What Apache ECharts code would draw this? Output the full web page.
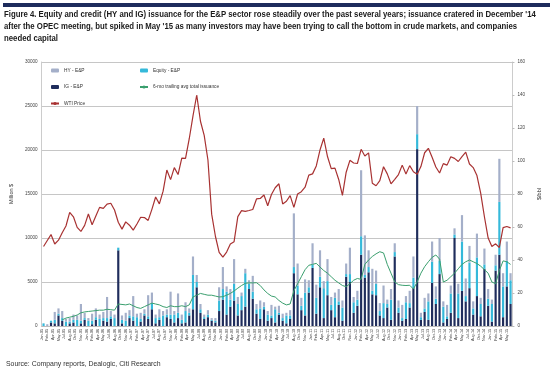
<!DOCTYPE html>
<html><head><meta charset="utf-8">
<script src="https://cdn.jsdelivr.net/npm/echarts@6/dist/echarts.min.js"></script>
<style>html,body{margin:0;padding:0;background:#fff}#c{width:550px;height:372px}</style>
</head><body><div id="c"></div>
<script>
// ---- Data (monthly Jan-05 .. Jun-15) ----
var MONTH_NAMES = ['Jan','Feb','Mar','Apr','May','Jun','Jul','Aug','Sep','Oct','Nov','Dec'];
var YEARS = ['05','06','07','08','09','10','11','12','13','14','15'];
var LAST_MONTH_2015 = 6;
var categories = [];
YEARS.forEach(function(y){
  var n = (y === '15') ? LAST_MONTH_2015 : 12;
  for (var m = 0; m < n; m++) categories.push(MONTH_NAMES[m] + '-' + y);
});

var hyIssuance = [
  0,200,0,900,600,800,300,400,600,500,1900,600,
  300,800,1000,500,700,2400,600,400,0,500,900,600,
  2300,400,700,500,2400,1200,400,900,500,600,2600,400,
  2200,600,1000,500,2100,800,600,300,500,200,300,1500,
  2500,600,1200,2800,800,400,500,400,1800,600,900,500,
  400,1200,300,800,500,300,600,6100,2500,900,1500,800,
  2400,1500,3000,800,2500,900,600,1400,800,1200,3000,600,
  1000,7500,4500,1900,2500,1500,900,2000,500,1200,1000,800,
  1500,700,1400,2400,3200,500,1200,900,2300,1400,2600,600,
  1300,900,700,1100,3000,2000,1900,800,2700,700,1800,1100,
  500,1200,4900,1500,2200,800
];
var equityIssuance = [
  300,0,200,400,200,300,500,200,300,700,300,200,
  600,400,300,800,300,400,300,900,300,400,600,300,
  500,1000,300,200,300,700,600,300,1200,300,500,900,
  600,400,1300,300,3900,600,400,200,300,100,200,1200,
  1200,2600,800,1900,1300,1600,3800,600,800,500,1200,300,
  700,300,1500,200,300,900,400,700,1000,500,2600,600,
  400,1800,1200,3400,1600,600,2200,400,1500,300,900,1200,
  700,2100,300,600,400,1300,500,1700,400,2300,500,600,
  300,1900,500,1200,1700,300,400,2100,2400,600,1500,1800,
  300,2200,400,2800,5600,600,2900,700,4400,1400,500,800,
  2000,600,6000,3500,2900,2700
];
var igIssuance = [
  0,0,400,300,1200,600,0,300,400,0,300,700,
  0,200,700,0,600,500,800,0,8600,300,0,900,
  600,0,500,1200,800,1900,300,700,0,1000,800,400,
  900,300,400,1200,1900,4400,1500,800,1000,600,400,1700,
  3000,1300,2200,2900,1200,1800,2200,4200,3100,1400,800,1900,
  600,900,400,1300,600,300,800,6000,3600,1800,1200,3800,
  6600,1400,4400,900,3500,1800,1000,2400,600,5600,5000,1500,
  2300,8100,5500,6100,3600,3500,1200,900,2100,700,7900,1500,
  600,800,2100,4300,20100,700,1600,700,4900,2500,5900,400,
  800,1500,10000,900,4000,2800,4300,1300,3400,1100,6500,2300,
  500,6300,8100,1000,4500,2500
];
var trailingAvg = [
  null,null,null,null,null,700,900,1000,1100,1250,1500,1600,
  1650,1700,1750,1800,1800,1900,1850,1800,2500,2450,2400,2500,
  2300,2100,2000,2200,2400,2600,2500,2400,2200,2100,2300,2200,
  2200,2300,2200,2400,3300,3500,3700,3600,3500,3500,3400,3300,
  3330,3500,3700,3980,4300,4600,4850,4900,4900,4920,4600,4100,
  3700,3400,3300,2900,2600,2400,2500,4000,4800,5600,6400,6900,
  7000,7120,6700,6300,6000,5600,5200,4900,4600,4470,4800,5200,
  5400,5300,7000,7500,7900,8200,8440,8300,7000,6000,5000,4700,
  4630,4600,4630,4200,5000,6000,6740,7300,7800,8070,7600,5000,
  5200,5600,6000,6500,7000,7300,7500,7300,7100,6800,6400,6000,
  5000,4800,6300,7400,7300,7000
];
var wtiPrice = [
  48.2,51.8,55.4,49.7,52.0,56.5,60.6,68.9,66.2,59.8,57.3,61.0,
  67.9,61.4,66.6,71.9,71.3,73.9,74.4,70.3,62.9,58.7,63.1,61.1,
  58.1,61.8,65.9,65.7,64.0,70.7,78.2,74.0,81.7,94.5,88.7,96.0,
  91.8,101.8,101.6,113.5,127.4,140.0,124.1,115.5,100.6,67.8,54.4,44.6,
  41.7,44.8,49.7,51.1,66.3,69.9,69.5,70.0,70.6,77.0,77.3,79.4,
  72.9,79.7,83.8,86.2,74.0,75.6,79.0,71.9,80.0,81.4,84.1,91.4,
  92.2,97.0,106.7,113.9,102.7,95.4,95.7,88.8,79.2,93.2,100.4,98.8,
  98.5,107.1,103.0,104.9,86.5,85.0,88.1,96.5,92.2,86.2,88.9,91.8,
  97.5,92.1,97.2,93.5,92.0,96.6,105.0,107.7,102.3,96.4,92.7,98.4,
  97.5,102.6,101.6,99.7,102.7,105.4,98.2,96.0,91.2,80.5,66.2,53.3,
  48.2,49.8,47.6,59.6,60.3,59.5
];
var leftTicks = {min: 0, max: 30000, interval: 5000};
var rightTicks = {min: 0, max: 160, interval: 20};
var labelStep = 1.5; // months between x-axis tick labels

var titleLines = [
  "Figure 4. Equity and credit (HY and IG) issuance for the E&P sector rose steadily over the past several years; issuance cratered in December '14",
  "after the OPEC meeting, but spiked in May '15 as many investors may have been trying to call the bottom in crude markets, and companies",
  "needed capital"
];
var sourceText = "Source: Company reports, Dealogic, Citi Research";

// ---- Chart ----
var chart = echarts.init(document.getElementById('c'), null, {renderer: 'canvas'});
var FONT = 'Liberation Sans, Arial, sans-serif';
var C_HY = '#a4afc9', C_EQ = '#35b9da', C_IG = '#1f2d5c', C_AVG = '#3a9f6e', C_WTI = '#a83232';

var graphics = [
  {type: 'rect', left: 3, top: 3, shape: {width: 547, height: 4}, style: {fill: '#1d2b5c'}}
];
titleLines.forEach(function(t, i){
  graphics.push({type: 'text', x: 4, y: 10 + i * 12, scaleX: 0.905, originX: 0,
    style: {text: t, font: 'bold 8.6px ' + FONT, fill: '#1a1a1a'}});
});
graphics.push({type: 'text', x: 6, y: 360, scaleX: 0.92, originX: 0,
  style: {text: sourceText, font: '7.5px ' + FONT, fill: '#333'}});

var plainNum = function(v){ return String(v); };

var option = {
  animation: false,
  backgroundColor: '#fff',
  graphic: graphics,
  grid: {left: 35, right: 21, top: 62, bottom: 46, containLabel: false},
  legend: [
    {data: ['HY - E&P', 'IG - E&P', 'WTI Price'], orient: 'vertical', left: 45, top: 63,
      itemWidth: 8, itemHeight: 4, itemGap: 11.5,
      textStyle: {fontSize: 4.8, color: '#333', fontFamily: FONT}},
    {data: ['Equity - E&P', '6-mo trailing avg total issuance'], orient: 'vertical', left: 134, top: 63,
      itemWidth: 8, itemHeight: 4, itemGap: 11.5,
      textStyle: {fontSize: 4.8, color: '#333', fontFamily: FONT}}
  ],
  xAxis: [
    {type: 'category', data: categories, boundaryGap: true,
      axisLine: {lineStyle: {color: '#bbb', width: 1}}, axisTick: {show: false},
      axisLabel: {show: false}, splitLine: {show: false}},
    {type: 'value', min: 0, max: categories.length, interval: labelStep, position: 'bottom',
      axisLine: {show: false}, axisTick: {show: false}, splitLine: {show: false},
      axisLabel: {rotate: 90, fontSize: 3.7, color: '#333', margin: 3, fontFamily: FONT,
        showMaxLabel: false,
        formatter: function(v){ var i = Math.floor(v + 1e-6); return (i >= 0 && i < categories.length) ? categories[i] : ''; }}}
  ],
  yAxis: [
    {type: 'value', min: leftTicks.min, max: leftTicks.max, interval: leftTicks.interval,
      name: 'Million $', nameLocation: 'middle', nameGap: 22, nameRotate: 90,
      nameTextStyle: {fontSize: 5.5, color: '#333', fontFamily: FONT},
      axisLine: {show: true, lineStyle: {color: '#ccc'}}, axisTick: {show: false},
      axisLabel: {fontSize: 4.6, color: '#444', margin: 4, fontFamily: FONT, formatter: plainNum},
      splitLine: {lineStyle: {color: '#c6c6c6', width: 1}}},
    {type: 'value', min: rightTicks.min, max: rightTicks.max, interval: rightTicks.interval,
      name: '$/bbl', nameLocation: 'middle', nameGap: 14, nameRotate: 90,
      nameTextStyle: {fontSize: 5.5, color: '#333', fontFamily: FONT},
      axisLine: {show: true, lineStyle: {color: '#ccc'}}, axisTick: {show: true, length: 2, lineStyle: {color: '#bbb'}},
      axisLabel: {fontSize: 4.6, color: '#444', margin: 5, fontFamily: FONT, formatter: plainNum},
      splitLine: {show: false}}
  ],
  series: [
    {name: 'IG - E&P', type: 'bar', stack: 'iss', data: igIssuance, itemStyle: {color: C_IG}, barCategoryGap: '42%'},
    {name: 'Equity - E&P', type: 'bar', stack: 'iss', data: equityIssuance, itemStyle: {color: C_EQ}},
    {name: 'HY - E&P', type: 'bar', stack: 'iss', data: hyIssuance, itemStyle: {color: C_HY}},
    {name: '6-mo trailing avg total issuance', type: 'line', data: trailingAvg, symbol: 'none',
      lineStyle: {color: C_AVG, width: 1}, itemStyle: {color: C_AVG}, z: 5},
    {name: 'WTI Price', type: 'line', yAxisIndex: 1, data: wtiPrice, symbol: 'none',
      lineStyle: {color: C_WTI, width: 1.2}, itemStyle: {color: C_WTI}, z: 6}
  ]
};
chart.setOption(option);
</script></body></html>
